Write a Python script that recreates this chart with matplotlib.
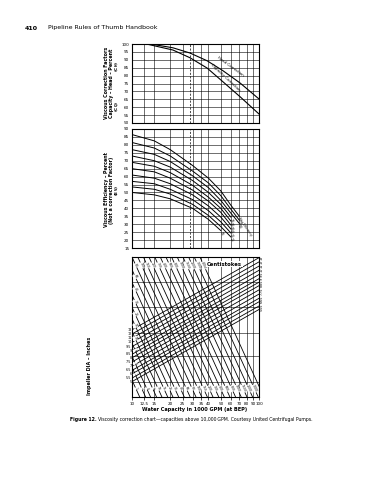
import matplotlib
matplotlib.use("Agg")
import matplotlib.pyplot as plt
import numpy as np

# capacity axis (1000 GPM), shared by all three panels
capTicks = [10, 12.5, 15, 20, 25, 30, 35, 40, 50, 60, 70, 80, 90, 100]
capLabels = ["10", "12.5", "15", "20", "25", "30", "35", "40", "50", "60", "70", "80", "90", "100"]
exampleCap = 28.5

# top panel: correction factors (percent)
headCap = [13, 14, 21, 28.6, 39, 52, 71, 100]
headCorr = [100, 100, 97.6, 94.3, 89.4, 83.1, 75.3, 65.2]
capaCap = [13, 14, 21, 28.6, 39, 52, 71, 100]
capaCorr = [100, 99.4, 96.2, 91.3, 84.8, 76.1, 66.6, 55.7]

# middle panel: viscous efficiency curves (percent)
effCap = [10, 15, 20, 30, 40, 50, 60, 70]
effCurves = [
    [86.5, 82.5, 77.0, 67.0, 59.0, 51.0, 42.0, 35.0],
    [81.5, 78.0, 73.0, 63.5, 56.0, 48.0, 39.5, 32.5],
    [77.0, 74.0, 69.5, 60.5, 53.0, 45.0, 37.0, 30.5],
    [73.0, 70.0, 66.0, 57.5, 50.0, 42.5, 34.5, np.nan],
    [69.0, 66.5, 62.5, 54.5, 47.0, 40.0, 32.0, np.nan],
    [65.0, 63.0, 59.0, 51.5, 44.5, 37.5, 29.5, np.nan],
    [61.0, 59.0, 55.5, 48.5, 41.5, 34.5, 27.0, np.nan],
    [57.0, 55.5, 52.0, 45.5, 38.5, 31.5, 24.5, np.nan],
    [53.5, 52.0, 49.0, 42.5, 35.5, 28.5, 22.0, np.nan],
    [50.0, 48.5, 46.0, 40.0, 33.0, 26.0, np.nan, np.nan],
]
effLabels = ["Max Efficiency", "90", "80", "70", "60", "50", "40", "30", "20", "10"]

# bottom panel: impeller diameter lines (head scale 0-100, left edge -> right edge)
diaLabels = ["13", "12", "11", "10", "9.5", "9", "8.5", "8", "7.5", "7", "6.5", "6", "5.5", "5"]
diaLeft = [48, 45, 42, 39, 36, 33, 30.5, 28, 25, 22, 19, 16.5, 13.5, 11]
diaRight = [99.5, 96.5, 93.5, 90.5, 87.5, 84.5, 82, 79.5, 76.5, 73.5, 70.5, 68, 65, 62.5]

# bottom panel: viscosity lines, capacity where each crosses top (100) and bottom (0)
viscLabels = ["1", "2", "4", "6", "10", "15", "20", "30", "40", "60", "80", "100",
              "150", "200", "300", "400", "600", "800", "1000", "1500", "2000", "3000", "4000"]
viscTop = [3.6, 4.0, 4.4, 4.9, 5.4, 6.0, 6.6, 7.3, 8.1, 9.0, 10.0, 11.1,
           12.3, 13.6, 15.1, 16.7, 18.5, 20.5, 22.7, 25.2, 27.9, 30.9, 34.3]
viscBot = [11.5, 12.8, 14.0, 15.6, 17.2, 19.1, 21.0, 23.3, 25.8, 28.7, 31.9, 35.4,
           39.2, 43.4, 48.2, 53.3, 59.0, 65.4, 72.4, 80.4, 89.0, 98.6, 109.4]

W, H = 370.0, 480.0
fig = plt.figure(figsize=(3.7, 4.8), dpi=100)

def panel(top, bottom):
    ax = fig.add_axes([132 / W, 1 - bottom / H, 127 / W, (bottom - top) / H])
    ax.set_xscale("log")
    ax.set_xlim(10, 100)
    for c in capTicks:
        ax.axvline(c, color="k", lw=0.4, zorder=1)
    ax.minorticks_off()
    for s in ax.spines.values():
        s.set_linewidth(0.8)
    return ax

# --- top panel
ax1 = panel(44, 123)
ax1.set_ylim(50, 100)
ax1.set_yticks(range(50, 101, 5))
for v in range(55, 100, 5):
    ax1.axhline(v, color="k", lw=0.4, zorder=1)
ax1.set_xticks([])
ax1.tick_params(axis="y", length=0, pad=2, labelsize=3)
ax1.plot(headCap, headCorr, color="k", lw=0.8)
ax1.plot(capaCap, capaCorr, color="k", lw=0.8)
ax1.axvline(exampleCap, color="k", lw=0.5, ls=(0, (3, 2)))
ax1.text(60, 86, "Head Correction", fontsize=2.8, rotation=-36, ha="center", va="center")
ax1.text(54, 78.5, "Capacity Correction", fontsize=2.8, rotation=-43, ha="center", va="center")

# --- middle panel
ax2 = panel(129, 248)
ax2.set_ylim(15, 90)
ax2.set_yticks(range(15, 91, 5))
for v in range(20, 90, 5):
    ax2.axhline(v, color="k", lw=0.4, zorder=1)
ax2.set_xticks([])
ax2.tick_params(axis="y", length=0, pad=2, labelsize=3)
for ys, lab in zip(effCurves, effLabels):
    ax2.plot(effCap, ys, color="k", lw=0.7)
    n = int(np.sum(~np.isnan(ys)))
    ax2.text(effCap[n - 1] * 1.02, ys[n - 1] - 0.5, lab, fontsize=2.2, rotation=-55,
             ha="left", va="top", rotation_mode="anchor")
ax2.axvline(exampleCap, color="k", lw=0.5, ls=(0, (3, 2)))

# --- bottom panel
ax3 = panel(257, 397)
ax3.set_ylim(0, 100)
ax3.set_yticks([])
for v in [11, 29, 46, 64, 82]:
    ax3.axhline(v, color="k", lw=0.4, zorder=1)
ax3.set_xticks(capTicks)
ax3.set_xticklabels(capLabels)
ax3.tick_params(axis="x", length=2, width=0.5, pad=1.5, labelsize=3)
for yl, yr, lab in zip(diaLeft, diaRight, diaLabels):
    ax3.plot([10, 100], [yl, yr], color="k", lw=0.6, zorder=2)
    ax3.text(9.9, yl, lab, fontsize=2.4, ha="right", va="center", clip_on=False)
    ax3.text(101, yr, lab, fontsize=2.4, ha="left", va="center", rotation=90, clip_on=False)

lc_top, lc_bot = np.log10(viscTop), np.log10(viscBot)
for a, b, lab in zip(lc_top, lc_bot, viscLabels):
    ax3.plot([10 ** a, 10 ** b], [100, 0], color="k", lw=0.6, zorder=2)
    # label near the upper entry and near the lower exit of each line
    for frac in (0.06, 0.94):
        xs = 10 ** (a + frac * (b - a))
        ys = 100 - frac * 100
        if 10.3 < xs < 97:
            ax3.text(xs, ys, lab, fontsize=2.2, rotation=-65, ha="center", va="center",
                     bbox=dict(fc="w", ec="none", pad=0.2), zorder=3)
    if a < 1.0 < b:
        # line enters through the left edge
        frac = (1.0 - a) / (b - a) + 0.05
        xs = 10 ** (a + frac * (b - a))
        if frac < 0.85:
            ax3.text(xs, 100 - frac * 100, lab, fontsize=2.2, rotation=-65, ha="center", va="center",
                     bbox=dict(fc="w", ec="none", pad=0.2), zorder=3)
ax3.text(39, 95, "Centistokes", fontsize=3.8, weight="bold", ha="left", va="center",
         bbox=dict(fc="w", ec="none", pad=0.5), zorder=4)

# axis titles
fig.text(106.5 / W, 1 - 83 / H, "Viscous Correction Factors", fontsize=3.4, weight="bold",
         rotation=90, ha="center", va="center")
fig.text(111.5 / W, 1 - 83 / H, "Capacity \u2013 Head \u2013 Percent", fontsize=3.4, weight="bold",
         rotation=90, ha="center", va="center")
fig.text(117.5 / W, 1 - 106 / H, r"(C$_\mathbf{Q}$)", fontsize=3.2, weight="bold", rotation=90,
         ha="center", va="center")
fig.text(117.5 / W, 1 - 66 / H, r"(C$_\mathbf{H}$)", fontsize=3.2, weight="bold", rotation=90,
         ha="center", va="center")
fig.text(106.5 / W, 1 - 190 / H, "Viscous Efficiency \u2013 Percent", fontsize=3.4, weight="bold",
         rotation=90, ha="center", va="center")
fig.text(111.5 / W, 1 - 190 / H, "(Not a correction Factor)", fontsize=3.4, weight="bold",
         rotation=90, ha="center", va="center")
fig.text(117.5 / W, 1 - 190 / H, r"(E$_\mathbf{V}$)", fontsize=3.2, weight="bold", rotation=90,
         ha="center", va="center")
fig.text(90 / W, 1 - 366 / H, "Impeller DIA \u2013 Inches", fontsize=3.5, weight="bold",
         rotation=90, ha="center", va="center")
fig.text(195 / W, 1 - 409 / H, "Water Capacity in 1000 GPM (at BEP)", fontsize=3.6, weight="bold",
         ha="center", va="center")

# page header and caption
fig.text(25 / W, 1 - 28 / H, "410", fontsize=4.5, weight="bold", ha="left", va="center")
fig.text(48 / W, 1 - 28 / H, "Pipeline Rules of Thumb Handbook", fontsize=4.5, ha="left", va="center")
fig.text(70 / W, 1 - 419 / H, "Figure 12.", fontsize=3.3, weight="bold", ha="left", va="center")
fig.text(98 / W, 1 - 419 / H,
         "Viscosity correction chart\u2014capacities above 10,000\u2009GPM. Courtesy United Centrifugal Pumps.",
         fontsize=3.3, ha="left", va="center")

fig.savefig("out.png", dpi=100)
